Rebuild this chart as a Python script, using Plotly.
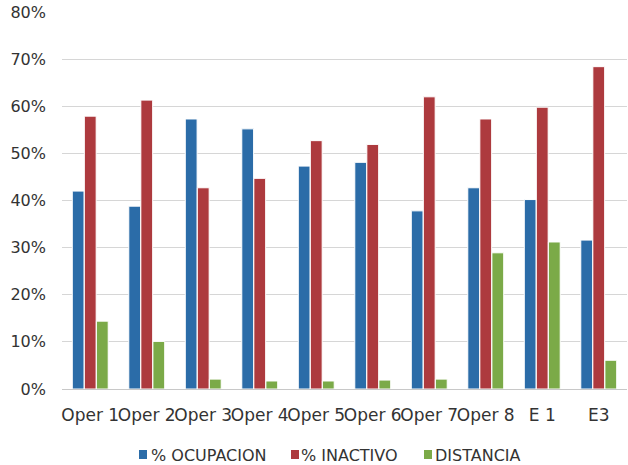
import plotly.graph_objects as go

categories = ["Oper 1", "Oper 2", "Oper 3", "Oper 4", "Oper 5", "Oper 6",
              "Oper 7", "Oper 8", "E 1", "E3"]
ocupacion = [0.420, 0.388, 0.573, 0.552, 0.473, 0.481, 0.378, 0.427, 0.402, 0.316]
inactivo = [0.579, 0.613, 0.427, 0.447, 0.527, 0.519, 0.620, 0.573, 0.598, 0.684]
distancia = [0.144, 0.101, 0.021, 0.017, 0.017, 0.019, 0.021, 0.289, 0.312, 0.061]

series_names = ["% OCUPACION", "% INACTIVO", "DISTANCIA"]
series_colors = ["#2B6CA8", "#AD3A3E", "#7BAA48"]
series_values = [ocupacion, inactivo, distancia]

W, H = 628, 465
M_L, M_R, M_T, M_B = 62, 1, 12, 76
PW, PH = W - M_L - M_R, H - M_T - M_B

fig = go.Figure()
for name, vals, color in zip(series_names, series_values, series_colors):
    fig.add_trace(go.Bar(
        x=categories, y=vals, name=name,
        marker=dict(color=color, line=dict(color="white", width=1)),
    ))

# Legend row drawn as small squares plus labels below the plot area
def px_x(px):
    return (px - M_L) / PW

def px_y(py):
    return (H - M_B - py) / PH

legend_square_x = [139, 291, 424]
legend_text_x = [149, 299, 433]
for sx, tx, name, color in zip(legend_square_x, legend_text_x, series_names, series_colors):
    fig.add_shape(type="rect", xref="paper", yref="paper",
                  x0=px_x(sx), x1=px_x(sx + 8), y0=px_y(459), y1=px_y(450),
                  fillcolor=color, line=dict(width=0))
    fig.add_annotation(xref="paper", yref="paper", x=px_x(tx), y=px_y(455),
                       xanchor="left", yanchor="middle", text=name, showarrow=False,
                       font=dict(size=16, color="#333333"))

font_family = "DejaVu Sans"
fig.update_layout(
    width=W, height=H,
    margin=dict(l=M_L, r=M_R, t=M_T, b=M_B, autoexpand=False),
    paper_bgcolor="white", plot_bgcolor="white",
    barmode="group", bargap=0.36, bargroupgap=0.02,
    font=dict(family=font_family, size=16, color="#333333"),
    showlegend=False,
    xaxis=dict(showgrid=False, showline=True, linecolor="#C8C8C8", linewidth=1,
               ticks="", tickangle=0, tickfont=dict(size=17), ticklabelstandoff=11),
    yaxis=dict(range=[0, 0.8], dtick=0.1, tickformat=".0%", showgrid=True,
               gridcolor="#D6D6D6", gridwidth=1, zeroline=False, showline=False,
               ticks="", tickfont=dict(size=16), ticklabelstandoff=15),
)

fig.write_html("out.html")
